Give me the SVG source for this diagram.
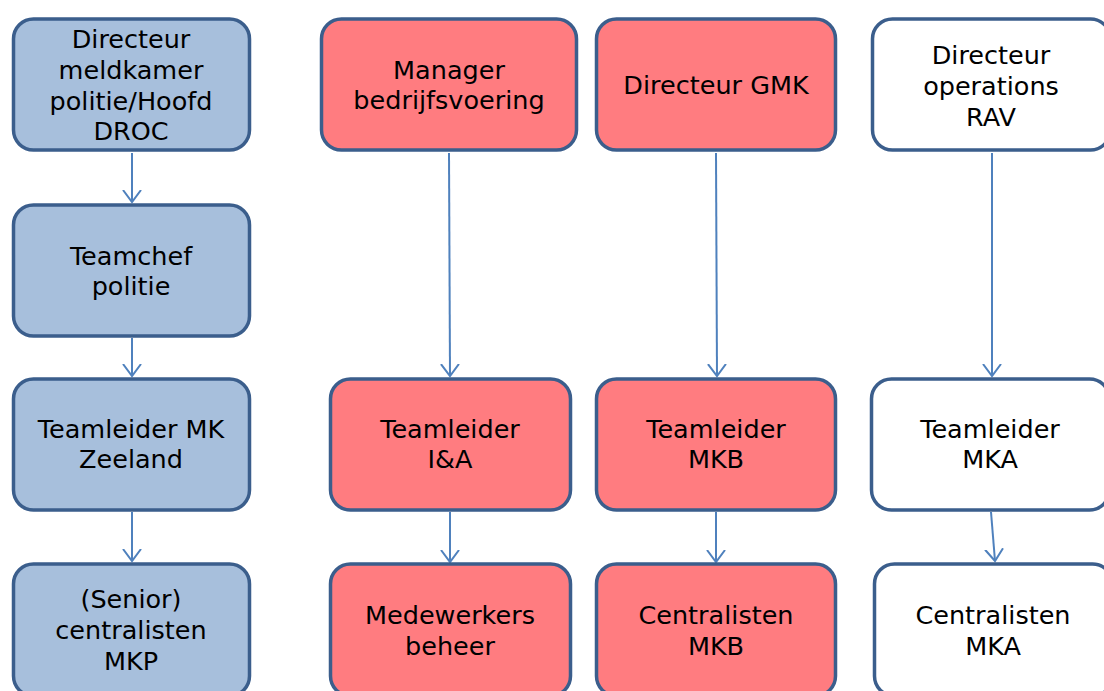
<svg xmlns="http://www.w3.org/2000/svg" width="1104" height="691" viewBox="0 0 1104 691">
<defs>
<marker id="arr" markerUnits="userSpaceOnUse" markerWidth="24" markerHeight="24" refX="12" refY="12" orient="auto" viewBox="0 0 24 24">
<path d="M0,3 L12,12 L0,21" fill="none" stroke="#4f81bd" stroke-width="2"/>
</marker>
<style>
.box{stroke:#3b5e8c;stroke-width:3.5}
.blue{fill:#a7bfdc}
.red{fill:#ff7c80}
.white{fill:#ffffff}
text{font-family:"DejaVu Sans","Verdana",sans-serif;font-size:25.5px;fill:#000;text-anchor:middle}
.conn{stroke:#4f81bd;stroke-width:2;fill:none;marker-end:url(#arr)}
</style>
</defs>
<rect width="1104" height="691" fill="#ffffff"/>
<g id="connectors">
<line class="conn" x1="132" y1="153" x2="132" y2="202"/>
<line class="conn" x1="132" y1="338" x2="132" y2="376"/>
<line class="conn" x1="132" y1="512" x2="132" y2="561"/>
<line class="conn" x1="449" y1="153" x2="450" y2="376"/>
<line class="conn" x1="450" y1="512" x2="450" y2="562"/>
<line class="conn" x1="716" y1="153" x2="717" y2="376"/>
<line class="conn" x1="716" y1="512" x2="716" y2="562"/>
<line class="conn" x1="992" y1="153" x2="992" y2="376"/>
<line class="conn" x1="991" y1="512" x2="995" y2="561"/>
</g>
<g id="n1"><rect class="box blue" x="13.5" y="19" width="236" height="131" rx="20"/>
<text x="131" y="48">Directeur</text><text x="131" y="79">meldkamer</text><text x="131" y="110">politie/Hoofd</text><text x="131" y="140">DROC</text></g>
<g id="n2"><rect class="box blue" x="13.5" y="205" width="236" height="131" rx="20"/>
<text x="131" y="265">Teamchef</text><text x="131" y="295">politie</text></g>
<g id="n3"><rect class="box blue" x="13.5" y="379" width="236" height="131" rx="20"/>
<text x="131" y="438">Teamleider MK</text><text x="131" y="468">Zeeland</text></g>
<g id="n4"><rect class="box blue" x="13.5" y="564" width="236" height="132" rx="20"/>
<text x="131" y="608">(Senior)</text><text x="131" y="639">centralisten</text><text x="131" y="670">MKP</text></g>
<g id="n5"><rect class="box red" x="321.5" y="19" width="255" height="131" rx="20"/>
<text x="449" y="79">Manager</text><text x="449" y="109">bedrijfsvoering</text></g>
<g id="n6"><rect class="box red" x="330.5" y="379" width="240" height="131" rx="20"/>
<text x="450" y="438">Teamleider</text><text x="450" y="468">I&amp;A</text></g>
<g id="n7"><rect class="box red" x="330.5" y="564" width="240" height="132" rx="20"/>
<text x="450" y="624">Medewerkers</text><text x="450" y="655">beheer</text></g>
<g id="n8"><rect class="box red" x="596.5" y="19" width="239" height="131" rx="20"/>
<text x="716" y="94">Directeur GMK</text></g>
<g id="n9"><rect class="box red" x="596.5" y="379" width="239" height="131" rx="20"/>
<text x="716" y="438">Teamleider</text><text x="716" y="468">MKB</text></g>
<g id="n10"><rect class="box red" x="596.5" y="564" width="239" height="132" rx="20"/>
<text x="716" y="624">Centralisten</text><text x="716" y="655">MKB</text></g>
<g id="n11"><rect class="box white" x="872.5" y="19" width="238" height="131" rx="20"/>
<text x="991" y="64">Directeur</text><text x="991" y="95">operations</text><text x="991" y="126">RAV</text></g>
<g id="n12"><rect class="box white" x="871.5" y="379" width="238" height="131" rx="20"/>
<text x="990" y="438">Teamleider</text><text x="990" y="468">MKA</text></g>
<g id="n13"><rect class="box white" x="874.5" y="564" width="238" height="132" rx="20"/>
<text x="993" y="624">Centralisten</text><text x="993" y="655">MKA</text></g>
</svg>
